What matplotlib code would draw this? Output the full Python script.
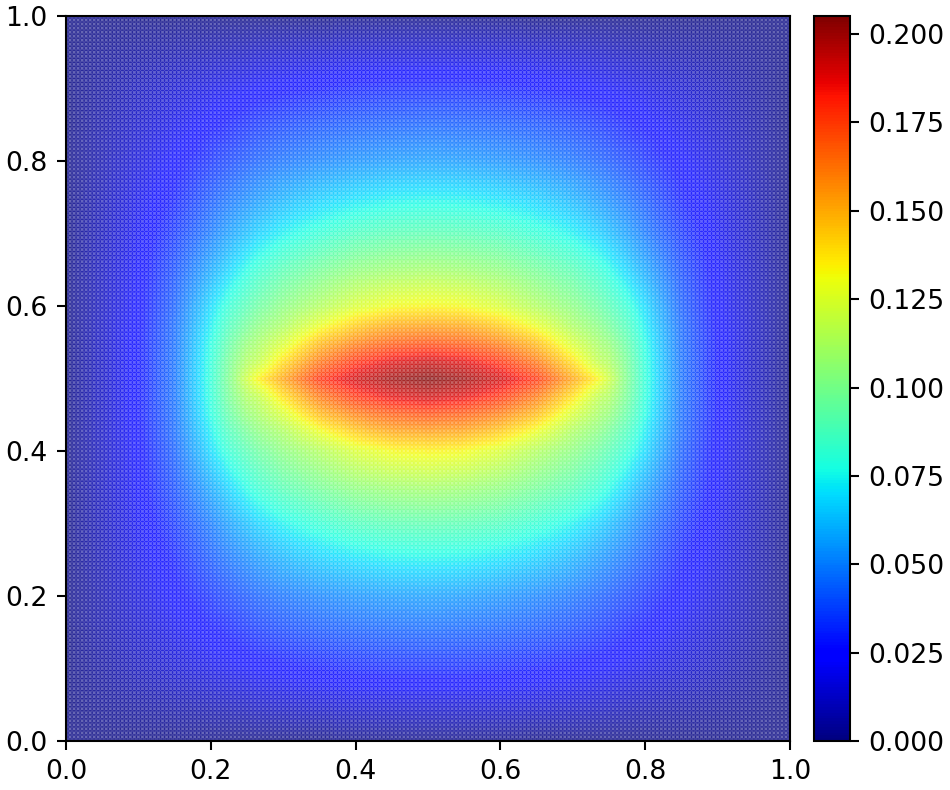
import numpy as np
import matplotlib
matplotlib.use('Agg')
import matplotlib.pyplot as plt

# lower left quadrant of the field
x_nodes = [0, .05, .1, .15, .2, .225, .25, .265, .3, .35, .4, .45, .5]
y_nodes = [0, .05, .1, .15, .2, .25, .3, .35, .4, .425, .45, .475, .5]

row_000 = [0, 0, 0, 0, 0, 0, 0, 0, 0, 0, 0, 0, 0]
row_005 = [0, .003, .005, .007, .009, .010, .011, .012, .013, .014, .015, .015, .015]
row_010 = [0, .005, .010, .014, .018, .020, .022, .023, .025, .027, .029, .030, .030]
row_015 = [0, .007, .013, .019, .025, .028, .031, .033, .036, .039, .041, .042, .043]
row_020 = [0, .008, .016, .024, .032, .036, .040, .042, .046, .050, .053, .055, .056]
row_025 = [0, .009, .019, .028, .040, .046, .051, .054, .060, .066, .070, .073, .074]
row_030 = [0, .010, .021, .033, .048, .056, .063, .067, .074, .081, .087, .090, .091]
row_035 = [0, .011, .023, .038, .058, .068, .077, .082, .090, .098, .105, .109, .111]
row_040 = [0, .011, .024, .042, .069, .081, .090, .095, .104, .114, .125, .132, .134]
row_0425 = [0, .012, .025, .044, .073, .087, .097, .103, .112, .128, .142, .150, .152]
row_045 = [0, .012, .026, .045, .077, .093, .106, .111, .124, .146, .160, .168, .171]
row_0475 = [0, .012, .026, .046, .079, .098, .113, .118, .138, .162, .178, .187, .191]
row_050 = [0, .012, .026, .046, .080, .100, .122, .134, .152, .178, .191, .200, .205]

quadrant = np.array([row_000, row_005, row_010, row_015, row_020, row_025, row_030,
                     row_035, row_040, row_0425, row_045, row_0475, row_050])

x = np.array(x_nodes)
y = np.array(y_nodes)
x = np.concatenate([x, 1 - x[-2::-1]])
y = np.concatenate([y, 1 - y[-2::-1]])
half = np.hstack([quadrant, quadrant[:, -2::-1]])
z = np.vstack([half, half[-2::-1]])

# resample the table on the fine dot grid
n = 181
gx = np.linspace(0, 1, n)
gy = np.linspace(0, 1, n)
by_col = np.array([np.interp(gx, x, r) for r in z])
fine = np.array([np.interp(gy, y, c) for c in by_col.T]).T
X, Y = np.meshgrid(gx, gy)

plt.rcParams['font.size'] = 10.25

fig = plt.figure(figsize=(950 / 187, 790 / 187), dpi=187)
ax = fig.add_axes([66 / 950, 1 - 741 / 790, 724 / 950, 725 / 790])
cax = fig.add_axes([814 / 950, 1 - 741 / 790, 36 / 950, 725 / 790])

sc = ax.scatter(X.ravel(), Y.ravel(), c=fine.ravel(), cmap='jet', vmin=0, vmax=.2051,
                s=4.6, marker='o', linewidths=0, alpha=0.6)
ax.set_xlim(0, 1)
ax.set_ylim(0, 1)

sm = plt.cm.ScalarMappable(norm=sc.norm, cmap='jet')
fig.colorbar(sm, cax=cax, ticks=[0, .025, .05, .075, .1, .125, .15, .175, .2],
             format='%.3f')

fig.savefig('out.png', dpi=187)
